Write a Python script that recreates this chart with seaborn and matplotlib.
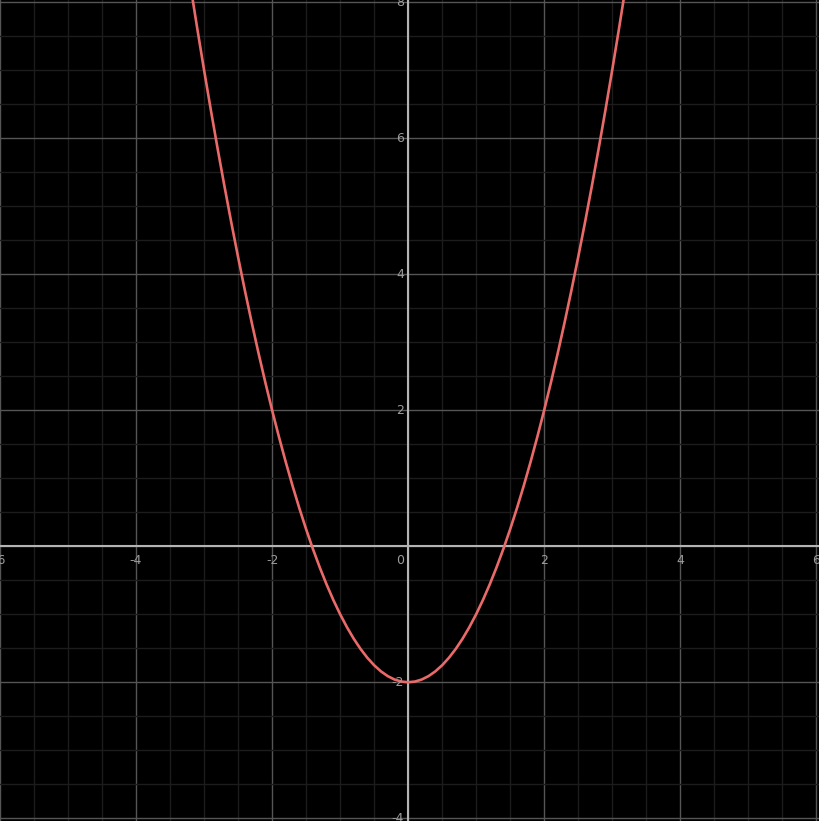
import matplotlib
matplotlib.use("Agg")
import matplotlib.pyplot as plt
import seaborn as sns
from matplotlib.ticker import MultipleLocator

# Points (symmetric parabola, vertex at (0, -2))
curve_x = [-3.3, -3.2, -3.1, -3.0, -2.9, -2.8, -2.7, -2.6, -2.5, -2.4, -2.3, -2.2,
           -2.1, -2.0, -1.9, -1.8, -1.7, -1.6, -1.5, -1.4, -1.3, -1.2, -1.1, -1.0,
           -0.9, -0.8, -0.7, -0.6, -0.5, -0.4, -0.3, -0.2, -0.1, 0.0,
           0.1, 0.2, 0.3, 0.4, 0.5, 0.6, 0.7, 0.8, 0.9, 1.0, 1.1, 1.2,
           1.3, 1.4, 1.5, 1.6, 1.7, 1.8, 1.9, 2.0, 2.1, 2.2, 2.3, 2.4,
           2.5, 2.6, 2.7, 2.8, 2.9, 3.0, 3.1, 3.2, 3.3]
curve_y = [8.89, 8.24, 7.61, 7.0, 6.41, 5.84, 5.29, 4.76, 4.25, 3.76, 3.29, 2.84,
           2.41, 2.0, 1.61, 1.24, 0.89, 0.56, 0.25, -0.04, -0.31, -0.56, -0.79, -1.0,
           -1.19, -1.36, -1.51, -1.64, -1.75, -1.84, -1.91, -1.96, -1.99, -2.0,
           -1.99, -1.96, -1.91, -1.84, -1.75, -1.64, -1.51, -1.36, -1.19, -1.0, -0.79, -0.56,
           -0.31, -0.04, 0.25, 0.56, 0.89, 1.24, 1.61, 2.0, 2.41, 2.84, 3.29, 3.76,
           4.25, 4.76, 5.29, 5.84, 6.41, 7.0, 7.61, 8.24, 8.89]

x_ticks = [-6, -4, -2, 0, 2, 4, 6]
y_ticks = [-4, -2, 2, 4, 6, 8]

sns.set_style("dark")
plt.rcParams['font.family'] = ['DejaVu Sans']

fig = plt.figure(figsize=(8.19, 8.21), dpi=100)
fig.patch.set_facecolor("black")
ax = fig.add_axes([0, 0, 1, 1])
ax.set_facecolor("black")

ax.set_xlim(-6.0, 6.04)
ax.set_ylim(-4.04, 8.03)

# grid: minor every 0.5, major every 2
ax.xaxis.set_major_locator(MultipleLocator(2))
ax.yaxis.set_major_locator(MultipleLocator(2))
ax.xaxis.set_minor_locator(MultipleLocator(0.5))
ax.yaxis.set_minor_locator(MultipleLocator(0.5))
ax.grid(which="minor", color="#1c1c1c", linewidth=1.0)
ax.grid(which="major", color="#555555", linewidth=1.0)
ax.tick_params(which="both", length=0, labelbottom=False, labelleft=False)
for s in ax.spines.values():
    s.set_visible(False)

# axes through the origin
ax.axhline(0, color="#b4b4b4", linewidth=1.5, zorder=2)
ax.axvline(0, color="#b4b4b4", linewidth=1.5, zorder=2)

sns.lineplot(x=curve_x, y=curve_y, sort=False, color="#ea6a6a", linewidth=1.9, ax=ax, zorder=3)

# tick labels along the axes
lab_kw = dict(color="#9c9c9c", fontsize=9)
for v in x_ticks:
    if v == 0:
        ax.text(v - 0.06, -0.12, "0", ha="right", va="top", **lab_kw)
    else:
        ax.text(v, -0.12, str(v), ha="center", va="top", **lab_kw)
for v in y_ticks:
    ax.text(-0.06, v, str(v), ha="right", va="center", **lab_kw)

fig.savefig("out.png", dpi=100, facecolor="black")
